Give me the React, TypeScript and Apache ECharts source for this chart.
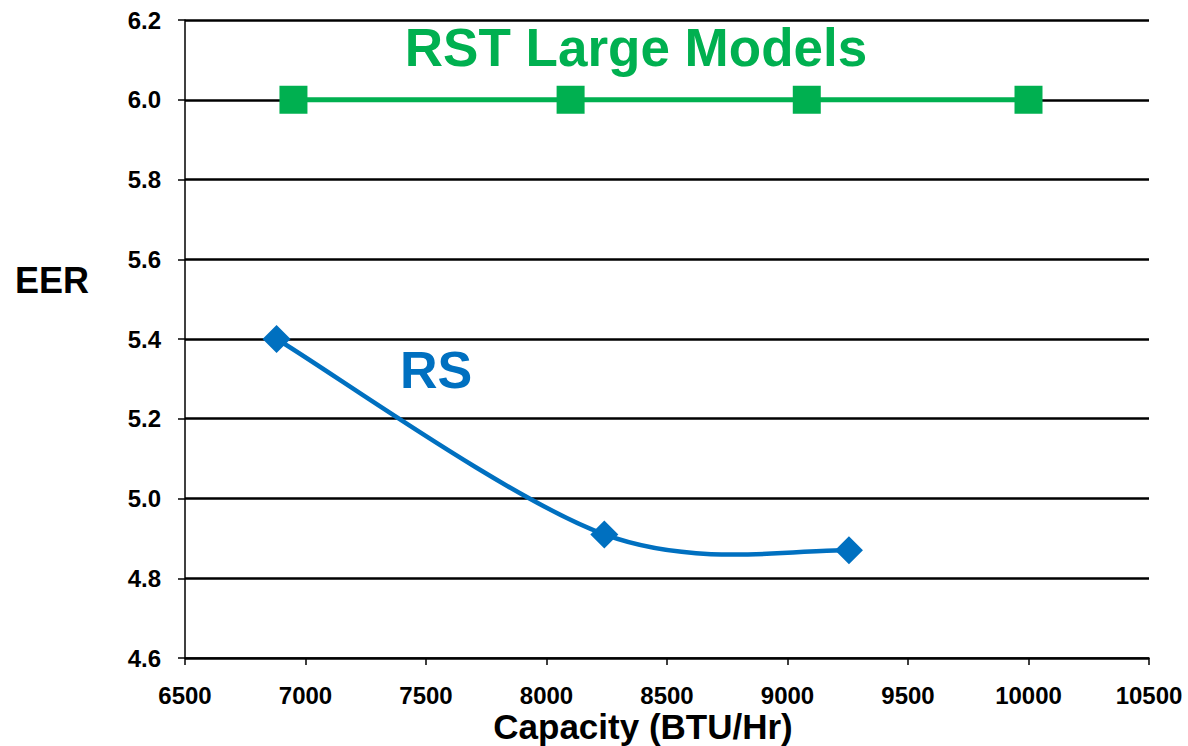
import React, { useEffect, useRef } from "react";
import * as echarts from "echarts";

const rstCapacity = [6950, 8100, 9080, 10000];
const rstEER = [6.0, 6.0, 6.0, 6.0];
const rsCapacity = [6880, 8240, 9255];
const rsEER = [5.4, 4.91, 4.87];

const FONT = "Liberation Sans, Arial, sans-serif";
const BLUE = "#0070C0";
const GREEN = "#00B050";

export default function App() {
  const ref = useRef<HTMLDivElement>(null);
  useEffect(() => {
    if (!ref.current) return;
    const chart = echarts.init(ref.current, null, { renderer: "svg" });
    const rsData = rsCapacity.map((c, i) => [c, rsEER[i]]);
    chart.setOption({
      animation: false,
      backgroundColor: "#ffffff",
      grid: { left: 185, top: 20, right: 39, bottom: 88 },
      xAxis: {
        type: "value",
        min: 6500,
        max: 10500,
        interval: 500,
        axisLine: { onZero: false, lineStyle: { color: "#000", width: 1.5 } },
        axisTick: { show: true, inside: false, length: 7, lineStyle: { color: "#000", width: 1.5 } },
        axisLabel: {
          fontFamily: FONT,
          fontWeight: "bold",
          fontSize: 24,
          lineHeight: 20,
          color: "#000",
          margin: 27,
          formatter: (v: number) => String(v),
        },
        splitLine: { show: false },
      },
      yAxis: {
        type: "value",
        min: 4.6,
        max: 6.2,
        interval: 0.2,
        axisLine: { show: true, lineStyle: { color: "#000", width: 1.5 } },
        axisTick: { show: true, inside: false, length: 7, lineStyle: { color: "#000", width: 1.5 } },
        axisLabel: {
          fontFamily: FONT,
          fontWeight: "bold",
          fontSize: 24,
          color: "#000",
          margin: 24,
          formatter: (v: number) => v.toFixed(1),
        },
        splitLine: { show: true, lineStyle: { color: "#000", width: 2.5 } },
      },
      graphic: [
        {
          type: "text",
          x: 52,
          y: 280,
          style: {
            text: "EER",
            fontFamily: FONT,
            fontWeight: "bold",
            fontSize: 36,
            fill: "#000",
            align: "center",
            verticalAlign: "middle",
          },
        },
        {
          type: "text",
          x: 643,
          y: 726,
          style: {
            text: "Capacity (BTU/Hr)",
            fontFamily: FONT,
            fontWeight: "bold",
            fontSize: 35,
            lineHeight: 28,
            fill: "#000",
            align: "center",
            verticalAlign: "middle",
          },
        },
        {
          type: "text",
          x: 636,
          y: 47,
          style: {
            text: "RST Large Models",
            fontFamily: FONT,
            fontWeight: "bold",
            fontSize: 53,
            fill: GREEN,
            align: "center",
            verticalAlign: "middle",
          },
        },
        {
          type: "text",
          x: 436,
          y: 370,
          style: {
            text: "RS",
            fontFamily: FONT,
            fontWeight: "bold",
            fontSize: 52,
            fill: BLUE,
            align: "center",
            verticalAlign: "middle",
          },
        },
      ],
      series: [
        {
          type: "line",
          name: "RST Large Models",
          data: rstCapacity.map((c, i) => [c, rstEER[i]]),
          symbol: "rect",
          symbolSize: 28,
          lineStyle: { color: GREEN, width: 5 },
          itemStyle: { color: GREEN, opacity: 1 },
          z: 3,
        },
        {
          type: "custom",
          name: "RS curve",
          data: rsData,
          z: 2,
          renderItem: (params: any, api: any) => {
            const i = params.dataIndexInside;
            const n = params.dataInsideLength;
            if (i >= n - 1) return null;
            const pt = (k: number) => api.coord([api.value(0, k), api.value(1, k)]);
            const p0 = pt(Math.max(i - 1, 0));
            const p1 = pt(i);
            const p2 = pt(i + 1);
            const p3 = pt(Math.min(i + 2, n - 1));
            return {
              type: "bezierCurve",
              shape: {
                x1: p1[0],
                y1: p1[1],
                x2: p2[0],
                y2: p2[1],
                cpx1: p1[0] + (p2[0] - p0[0]) / 6,
                cpy1: p1[1] + (p2[1] - p0[1]) / 6,
                cpx2: p2[0] - (p3[0] - p1[0]) / 6,
                cpy2: p2[1] - (p3[1] - p1[1]) / 6,
              },
              style: { stroke: BLUE, lineWidth: 4.5, fill: null },
            };
          },
        },
        {
          type: "scatter",
          name: "RS",
          data: rsData,
          symbol: "diamond",
          symbolSize: 28,
          itemStyle: { color: BLUE, opacity: 1 },
          z: 4,
        },
      ],
    });
    return () => chart.dispose();
  }, []);
  return (
    <div
      ref={ref}
      style={{ position: "fixed", left: 0, top: 0, width: 1188, height: 746 }}
    />
  );
}
